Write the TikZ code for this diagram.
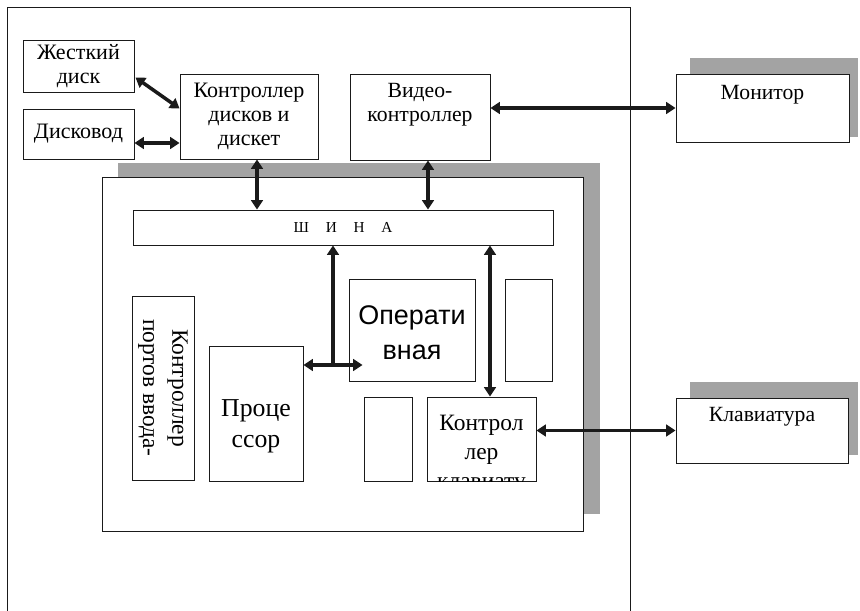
\documentclass[tikz,border=0pt]{standalone}
\usepackage{fontspec}
\setmainfont{Liberation Serif}
\newfontfamily\sansru{Liberation Sans}
\usepackage{xcolor}
\usepackage{tikz}
\usetikzlibrary{arrows.meta, calc}
\definecolor{ink}{HTML}{1A1A1A}
\definecolor{shadowgray}{HTML}{A3A3A3}

\begin{document}
\begin{tikzpicture}[x=0.03cm, y=-0.03cm,
    blk/.style={draw=ink, line width=0.8pt, fill=white, inner sep=1pt, align=center,
      font=\fontsize{18.8}{20.5}\selectfont},
    toptxt/.style={anchor=north, inner ysep=8pt, align=center, font=\fontsize{18.5}{21}\selectfont},
    link/.style={ink, line width=3pt, -{Triangle[length=8pt, width=10pt]}},
    dlink/.style={ink, line width=3pt, {Triangle[length=8pt, width=10pt]}-{Triangle[length=8pt, width=10pt]}},
  ]
  \useasboundingbox (0,0) rectangle (860,611);
  % system unit frame, open at the bottom
  \draw[ink, line width=0.7pt] (7,611) -- (7,7) -- (630,7) -- (630,611);
  % shadows behind board, monitor and keyboard
  \fill[shadowgray] (118,163) rectangle (600,514);
  \fill[shadowgray] (690,58) rectangle (858,137);
  \fill[shadowgray] (690,382) rectangle (858,455);
  \node[blk, minimum width=14.43cm, minimum height=10.62cm] (board) at (342.5,354) {};

  % drives and their controllers
  \node[blk, minimum width=3.33cm, minimum height=1.56cm] (hdd) at (78.5,66) {Жесткий\\диск};
  \node[blk, minimum width=3.33cm, minimum height=1.5cm] (fdd) at (78.5,134) {Дисковод};
  \node[blk, minimum width=4.14cm, minimum height=2.55cm] (dctl) at (249,116.5) {Контроллер\\дисков и\\дискет};
  \node[blk, minimum width=4.2cm, minimum height=2.58cm,
    label={[toptxt]north:Видео-\\контроллер}] (vctl) at (420,117) {};
  \node[blk, minimum width=5.19cm, minimum height=2.04cm,
    label={[toptxt, inner ysep=9.5pt]north:Монитор}] (mon) at (762.5,108) {};
  \node[blk, minimum width=5.16cm, minimum height=1.95cm,
    label={[toptxt]north:Клавиатура}] (kbd) at (762,430.5) {};

  % inside the board
  \node[blk, minimum width=12.6cm, minimum height=1.05cm, font=\fontsize{13}{15}\selectfont] (bus)
    at (343,227.5) {Ш\hspace{1.1em}И\hspace{1.1em}Н\hspace{1.1em}А};
  \node[blk, rotate=-90, minimum width=5.52cm, minimum height=1.86cm,
    font=\fontsize{20}{25}\selectfont] (ports) at (163,388) {Контроллер\\портов ввода-};
  \node[blk, minimum width=2.82cm, minimum height=4.05cm,
    label={[align=center, yshift=-11pt, font=\fontsize{22}{26}\selectfont]center:Проце\\ссор}] (cpu) at (256,413.5) {};
  \node[blk, minimum width=3.78cm, minimum height=3.06cm,
    label={[align=center, yshift=-2pt, font=\sansru\fontsize{23}{30}\selectfont]center:Операти\\вная}] (ram) at (412,330) {};
  \node[blk, minimum width=1.41cm, minimum height=3.06cm] (slotA) at (528.5,330) {};
  \node[blk, minimum width=1.44cm, minimum height=2.52cm] (slotB) at (388,439) {};
  \node[blk, minimum width=3.27cm, minimum height=2.52cm] (kctl) at (481.5,439) {};
  \begin{scope}
    \clip (kctl.north west) rectangle (kctl.south east);
    \node[anchor=north, align=center, inner ysep=16pt, font=\fontsize{20}{24.5}\selectfont] (kctltxt)
      at (kctl.north) {Контрол\\лер\\клавиату};
  \end{scope}

  % connectors
  \draw[dlink] ($(hdd.south east)+(1,-15)$) -- ($(dctl.west)+(0,-8)$);
  \coordinate (fj) at ($(fdd.east)+(0,9)$);
  \draw[dlink] (fj) -- (dctl.west |- fj);
  \coordinate (dj) at ($(dctl.south)+(8,0)$);
  \draw[dlink] (dj) -- (bus.north -| dj);
  \coordinate (vj) at ($(vctl.south)+(8,0)$);
  \draw[dlink] (vj) -- (bus.north -| vj);
  \draw[dlink] (vctl.east |- mon.west) -- (mon.west);
  \coordinate (rj) at (333,365);
  \draw[link] (rj) -- (bus.south -| rj);
  \draw[dlink] (cpu.east |- rj) -- ($(ram.west |- rj)+(14,0)$);
  \coordinate (kj) at ($(kctl.north)+(8.5,0)$);
  \draw[dlink] (kj) -- (bus.south -| kj);
  \draw[dlink] (kctl.east |- kbd.west) -- (kbd.west);
\end{tikzpicture}
\end{document}
